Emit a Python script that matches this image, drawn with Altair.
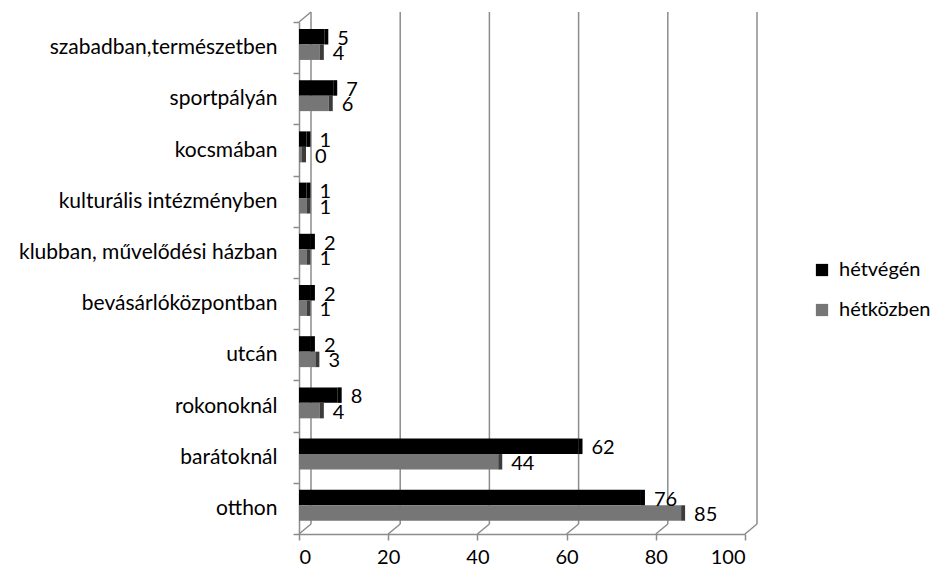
import altair as alt
import pandas as pd

categories = ["szabadban,természetben", "sportpályán", "kocsmában", "kulturális intézményben",
              "klubban, művelődési házban", "bevásárlóközpontban", "utcán", "rokonoknál",
              "barátoknál", "otthon"]
weekend = [5, 7, 1, 1, 2, 2, 2, 8, 62, 76]
weekday = [4, 6, 0, 1, 1, 1, 3, 4, 44, 85]
series = ["hétvégén", "hétközben"]
colors = ["#000000", "#767676"]
face_colors = ["#000000", "#3c3c3c"]
ticks = [0, 20, 40, 60, 80, 100]

rows = []
for c, a, b in zip(categories, weekend, weekday):
    rows.append({"cat": c, "series": series[0], "value": a, "face": face_colors[0]})
    rows.append({"cat": c, "series": series[1], "value": b, "face": face_colors[1]})
df = pd.DataFrame(rows)
tick_df = pd.DataFrame({"t": ticks})
zero_df = pd.DataFrame({"t": [0]})

W, H = 446, 512
FONT = "Lato"
FS = 21
GRID = "#8c8c8c"

xscale = alt.Scale(domain=[0, 100], nice=False, zero=True)
yscale = alt.Scale(domain=categories, paddingInner=0, paddingOuter=0)
yoff = alt.YOffset("series:N", scale=alt.Scale(domain=series, paddingInner=0, paddingOuter=0.655, align=0.345))

xaxis = alt.Axis(values=ticks, title=None, grid=False, domainColor=GRID, domainWidth=1.5,
                 tickColor=GRID, tickWidth=1.5, tickSize=6, labelPadding=7,
                 labelFont=FONT, labelFontSize=FS - 1, labelColor="black")
yaxis = alt.Axis(title=None, grid=False, tickBand="extent", tickSize=6, tickColor=GRID,
                 tickWidth=1.5, domainColor=GRID, domainWidth=1.5, labelPadding=16,
                 labelFont=FONT, labelFontSize=FS, labelColor="black", labelLimit=400)

bars = alt.Chart(df).mark_bar(xOffset=3, x2Offset=3).encode(
    x=alt.X("value:Q", scale=xscale, stack=None, axis=xaxis),
    y=alt.Y("cat:N", scale=yscale, sort=categories, axis=yaxis),
    yOffset=yoff,
    color=alt.Color("series:N", scale=alt.Scale(domain=series, range=colors),
                    legend=alt.Legend(orient="none", legendX=513, legendY=238, title=None,
                                      symbolType="square", symbolSize=150, symbolStrokeWidth=0,
                                      labelFont=FONT, labelFontSize=FS - 1, labelColor="black",
                                      rowPadding=20, labelOffset=7)),
)

grid = alt.Chart(tick_df).mark_rule(color=GRID, strokeWidth=1.5, xOffset=12).encode(
    x=alt.X("t:Q", scale=xscale, axis=xaxis), y=alt.value(-10), y2=alt.value(H - 10))

diag = alt.Chart(tick_df).mark_rule(color=GRID, strokeWidth=1.5, x2Offset=12).encode(
    x=alt.X("t:Q", scale=xscale, axis=xaxis), x2=alt.X2("t:Q"), y=alt.value(H), y2=alt.value(H - 10))

topdiag = alt.Chart(zero_df).mark_rule(color=GRID, strokeWidth=1.5, x2Offset=12).encode(
    x=alt.X("t:Q", scale=xscale, axis=xaxis), x2=alt.X2("t:Q"), y=alt.value(0), y2=alt.value(-10))

faces = alt.Chart(df).mark_bar(xOffset=3, x2Offset=7).encode(
    x=alt.X("value:Q", scale=xscale, axis=xaxis),
    x2=alt.X2("value:Q"),
    y=alt.Y("cat:N", scale=yscale, sort=categories, axis=yaxis),
    yOffset=yoff,
    color=alt.Color("face:N", scale=None),
)

labels = alt.Chart(df).mark_text(align="left", baseline="middle", dx=16, dy=2, font=FONT,
                                 fontSize=FS - 1, color="black").encode(
    x=alt.X("value:Q", scale=xscale, axis=xaxis),
    y=alt.Y("cat:N", scale=yscale, sort=categories, axis=yaxis),
    yOffset=yoff,
    text=alt.Text("value:Q"),
)

chart = alt.layer(grid, diag, topdiag, bars, faces, labels).properties(
    width=W, height=H,
    autosize=alt.AutoSizeParams(type="none"),
    padding={"left": 291, "top": 14, "right": 185, "bottom": 36},
).configure_view(stroke=None)

chart.save("out.html", embed_options={"renderer": "svg", "actions": False})
